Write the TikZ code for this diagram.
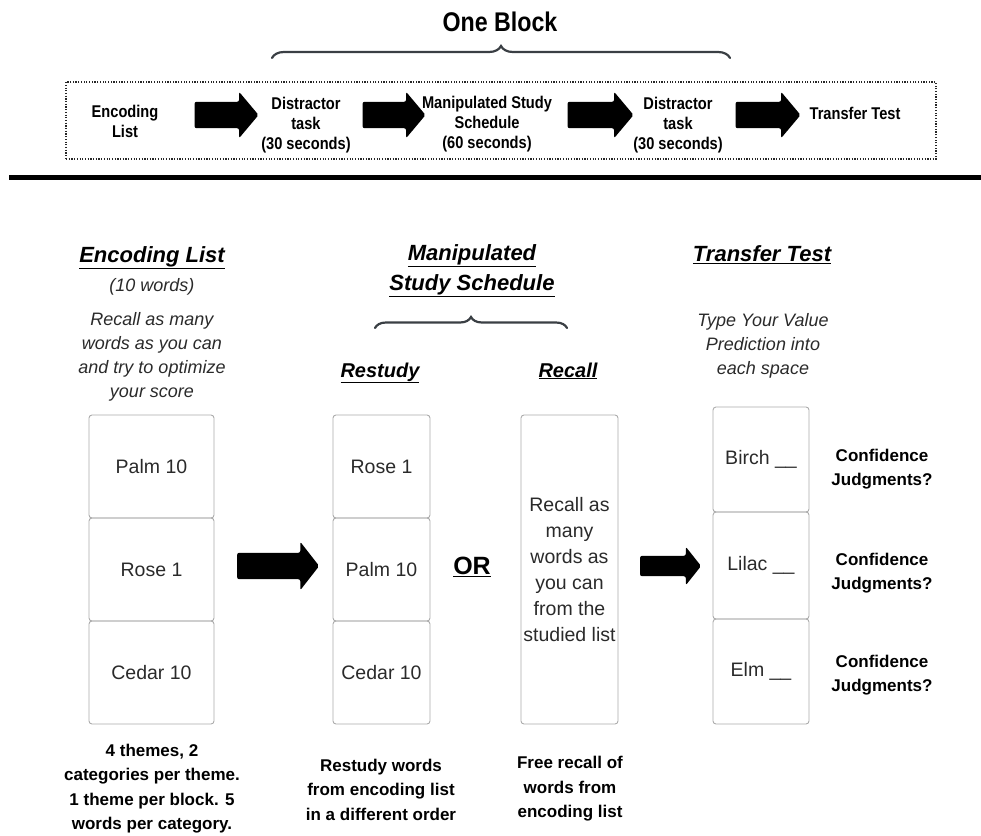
\documentclass[tikz,border=0pt]{standalone}
\usepackage{fontspec}
\setmainfont{Liberation Sans}
\newfontfamily\condfont{Liberation Sans}[FakeStretch=0.86]
\usetikzlibrary{shapes.arrows,decorations.pathreplacing}
\definecolor{txt}{HTML}{2A2A2A}
\definecolor{bord}{HTML}{ABABAB}
\definecolor{bracec}{HTML}{3A3F44}
\begin{document}
\begin{tikzpicture}[x=1pt,y=-1pt,
  rowtext/.style={font=\condfont\bfseries\fontsize{17}{20}\selectfont, align=center, text=black, inner sep=0},
  blockarrow/.style={single arrow, fill=black, draw=none, inner xsep=0pt, single arrow head indent=0pt, rounded corners=2pt},
  toparrow/.style={blockarrow, inner ysep=13pt, single arrow head extend=10pt, single arrow tip angle=100},
  head/.style={font=\bfseries\itshape\fontsize{22}{30}\selectfont, align=center, text=black, inner sep=0},
  subhead/.style={font=\bfseries\itshape\fontsize{20}{24}\selectfont, text=black, inner sep=0, anchor=base},
  note/.style={font=\itshape\fontsize{18}{24}\selectfont, align=center, text=txt, inner sep=0},
  boldnote/.style={font=\bfseries\fontsize{17}{24.5}\selectfont, align=center, text=black, inner sep=0},
  cell/.style={draw=bord, line width=0.9pt, rounded corners=3pt, inner sep=0, font=\fontsize{19.5}{26}\selectfont, text=txt, align=center},
  bracestyle/.style={draw=bracec, line width=2.2pt, line cap=round, decorate}
]
\useasboundingbox (0,0) rectangle (981,835);

% ---------- top: one block ----------
\node[font=\condfont\bfseries\fontsize{27}{30}\selectfont, inner sep=0] (oneblock) at (500,22) {One Block};
\coordinate (bl) at (272,58);
\coordinate (br) at (730,58);
\draw[bracestyle, decoration={brace, amplitude=12pt}] (bl) -- (br);

\node[draw=black!85, line width=2.2pt, dash pattern=on 1.2pt off 1.5pt, minimum width=870pt, minimum height=77pt, inner sep=0] (block) at (501,120.5) {};

\node[rowtext] (t1) at (125,121) {Encoding\\List};
\node[rowtext] (t2) at (306,125) {Distractor\\task\\(30 seconds)};
\node[rowtext] (t3) at (487,124) {Manipulated Study\\Schedule\\(60 seconds)};
\node[rowtext] (t4) at (678,125) {Distractor\\task\\(30 seconds)};
\node[rowtext] (t5) at (855,113) {Transfer Test};

\node[toparrow, minimum height=64pt] (a1) at (221,115) {};
\node[toparrow, minimum height=63pt] (a2) at (388.5,115) {};
\node[toparrow, minimum height=66pt] (a3) at (595,115) {};
\node[toparrow, minimum height=65pt] (a4) at (762.5,115) {};

\coordinate (ruleL) at (9,177);
\coordinate (ruleR) at (981,177);
\draw[line width=5pt, black] (ruleL) -- (ruleR);

% ---------- headings ----------
\node[head] (enchead) at (152,258) {\underline{Encoding List}};
\node[note] (encn) at (152,287) {(10 words)};
\node[note] (encd) at (152,357) {Recall as many\\words as you can\\and try to optimize\\your score};

\node[head] (msshead) at (472,271) {\underline{Manipulated}\\\underline{Study Schedule}};
\coordinate (ml) at (375,328);
\coordinate (mr) at (567,328);
\draw[bracestyle, decoration={brace, amplitude=11pt}] (ml) -- (mr);
\node[subhead] (restudy) at (380,377) {\underline{Restudy}};
\node[subhead] (recall) at (568,377) {\underline{Recall}};

\node[head] (tthead) at (762,255) {\underline{Transfer Test}};
\node[note] (ttd) at (763,346) {Type Your Value\\Prediction into\\each space};

% ---------- encoding list cells ----------
\node[cell, minimum width=125pt, minimum height=103pt] (e1) at (151.5,466.5) {Palm 10};
\node[cell, minimum width=125pt, minimum height=103pt] (e2) at (151.5,569.5) {Rose 1};
\node[cell, minimum width=125pt, minimum height=103pt] (e3) at (151.5,672.5) {Cedar 10};

\node[blockarrow, inner ysep=13pt, single arrow head extend=11pt, single arrow tip angle=104, minimum height=82pt] (am1) at (273,566) {};

% ---------- restudy cells ----------
\node[cell, minimum width=97pt, minimum height=103pt] (r1) at (381.5,466.5) {Rose 1};
\node[cell, minimum width=97pt, minimum height=103pt] (r2) at (381.5,569.5) {Palm 10};
\node[cell, minimum width=97pt, minimum height=103pt] (r3) at (381.5,672.5) {Cedar 10};

\node[font=\bfseries\fontsize{25}{30}\selectfont, inner sep=0] (or) at (472,567) {\underline{OR}};

% ---------- recall box ----------
\node[cell, minimum width=97pt, minimum height=309pt] (rc) at (569.5,569.5) {Recall as\\many\\words as\\you can\\from the\\studied list};

\node[blockarrow, inner ysep=10pt, single arrow head extend=9pt, single arrow tip angle=103, minimum height=61pt] (am2) at (666.5,566) {};

% ---------- transfer cells ----------
\node[cell, minimum width=96pt, minimum height=105pt] (c1) at (761,459.5) {Birch \_\_};
\node[cell, minimum width=96pt, minimum height=107pt] (c2) at (761,565.5) {Lilac \_\_};
\node[cell, minimum width=96pt, minimum height=105pt] (c3) at (761,671.5) {Elm \_\_};

\node[boldnote] (j1) at (882,469) {Confidence\\Judgments?};
\node[boldnote] (j2) at (882,573) {Confidence\\Judgments?};
\node[boldnote] (j3) at (882,675) {Confidence\\Judgments?};

% ---------- bottom notes ----------
\node[boldnote] (b1) at (152,788.5) {4 themes, 2\\categories per theme.\\1 theme per block. 5\\words per category.};
\node[boldnote] (b2) at (381,789.5) {Restudy words\\from encoding list\\in a different order};
\node[boldnote] (b3) at (570,789) {Free recall of\\words from\\encoding list};
\end{tikzpicture}
\end{document}
